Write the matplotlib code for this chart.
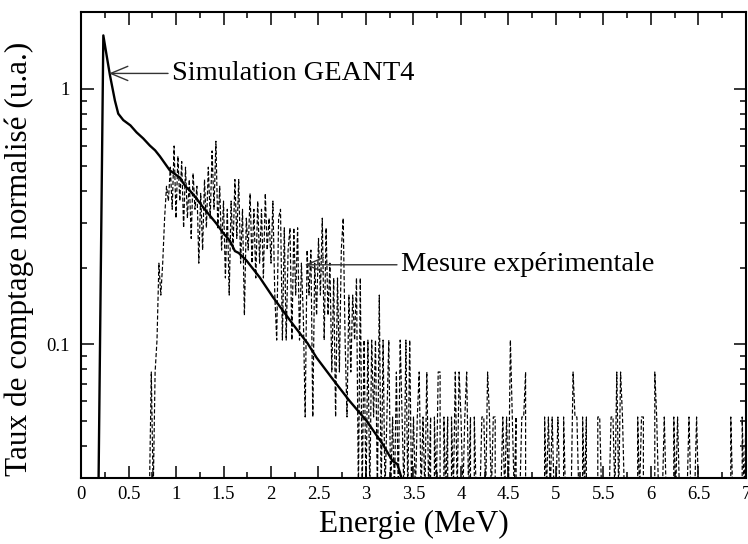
import matplotlib
matplotlib.use("agg")
import numpy as np
import matplotlib.pyplot as plt
from matplotlib.ticker import MultipleLocator, FixedLocator, LogLocator, NullFormatter, FixedFormatter

plt.rcParams['font.family'] = ['Liberation Serif', 'DejaVu Serif']

# simulation GEANT4
sim_e = [0.18, 0.235, 0.27, 0.305, 0.357, 0.392, 0.445, 0.52, 0.585, 0.655, 0.725,
         0.78, 0.83, 0.935, 1.04, 1.10, 1.146, 1.21, 1.285, 1.426, 1.50, 1.566, 1.62,
         1.66, 1.742, 1.881, 2.021, 2.123, 2.23, 2.385, 2.48, 2.649, 2.827, 3.006,
         3.174, 3.279, 3.33, 3.374, 3.40]
sim_y = [0.02, 1.62, 1.35, 1.13, 0.90, 0.80, 0.755, 0.72, 0.676, 0.64, 0.60,
         0.575, 0.545, 0.48, 0.45, 0.415, 0.40, 0.375, 0.344, 0.297, 0.272, 0.255, 0.232,
         0.228, 0.213, 0.183, 0.153, 0.136, 0.120, 0.101, 0.0887, 0.0732, 0.0601, 0.0502,
         0.0408, 0.035, 0.034, 0.030, 0.026]

# measurement: counts per channel, channels of 0.02 MeV starting at 0.70 MeV
exp_start = 0.70
exp_step = 0.02
exp_norm = 0.026
exp_counts = [
    0, 1, 3, 1, 3, 4, 8, 6, 8, 12, 16, 14, 19, 13, 23, 12, 21, 14, 20, 11, 19, 12, 17, 10, 18,
    13, 16, 8, 15, 9, 17, 11, 19, 12, 22, 13, 24, 11, 16, 9, 14, 7, 13, 6, 14, 9, 17, 10, 17, 8,
    13, 5, 12, 9, 15, 8, 13, 7, 14, 8, 13, 7, 15, 9, 12, 8, 14, 6, 4, 12, 13, 4, 11, 4, 9,
    11, 4, 11, 6, 11, 4, 8, 5, 2, 9, 6, 9, 2, 8, 5, 10, 6, 12, 4, 11, 5, 8, 3, 7, 2,
    7, 3, 9, 12, 4, 2, 6, 3, 6, 4, 7, 1, 7, 1, 4, 1, 4, 1, 4, 2, 4, 1, 6, 1, 4,
    1, 2, 4, 1, 2, 1, 3, 1, 4, 2, 1, 4, 1, 4, 1, 2, 1, 2, 3, 1, 2, 1, 3, 1, 2,
    0, 2, 1, 3, 3, 0, 2, 1, 2, 0, 2, 1, 3, 1, 3, 2, 1, 2, 3, 1, 2, 0, 2, 1, 0,
    1, 2, 2, 1, 3, 2, 1, 2, 2, 0, 0, 1, 2, 1, 2, 1, 4, 2, 1, 2, 0, 1, 2, 2, 3,
    0, 0, 1, 0, 0, 0, 0, 1, 0, 2, 1, 2, 1, 2, 1, 1, 2, 1, 0, 2, 1, 1, 0, 1, 3,
    2, 2, 1, 0, 2, 1, 2, 0, 1, 0, 1, 0, 2, 2, 1, 0, 1, 0, 1, 2, 2, 1, 3, 1, 3,
    2, 1, 0, 1, 0, 0, 1, 0, 2, 1, 2, 2, 0, 1, 0, 1, 0, 3, 2, 1, 0, 1, 2, 1, 0,
    1, 0, 2, 1, 2, 1, 0, 1, 0, 1, 2, 1, 0, 1, 2, 1, 0, 0, 0, 0, 0, 0, 0, 0, 0,
    0, 0, 0, 0, 0, 1, 0, 2, 1, 0, 0, 1, 0, 2, 1, 2,
]

exp_e = exp_start + exp_step * np.arange(len(exp_counts))
exp_y = exp_norm * np.array(exp_counts, dtype=float)

fig = plt.figure(figsize=(7.48, 5.44), dpi=100)
ax = fig.add_axes([0.1083, 0.1213, 0.889, 0.8566])

ax.plot(exp_e, exp_y, color='black', linewidth=0.85, linestyle=(0, (3.5, 1.8)))
ax.plot(sim_e, sim_y, color='black', linewidth=1.7)

ax.set_yscale('log')
ax.set_xlim(0, 7)
ax.set_ylim(0.03, 2)

ax.xaxis.set_major_locator(MultipleLocator(0.5))
ax.xaxis.set_minor_locator(MultipleLocator(0.25))
ax.xaxis.set_major_formatter(plt.FuncFormatter(lambda v, p: '%g' % v))
ax.yaxis.set_major_locator(FixedLocator([0.1, 1]))
ax.yaxis.set_major_formatter(FixedFormatter(['0.1', '1']))
ax.yaxis.set_minor_locator(LogLocator(base=10, subs=np.arange(2, 10)))
ax.yaxis.set_minor_formatter(NullFormatter())

ax.tick_params(which='both', direction='in', top=True, right=True, width=1.1)
ax.tick_params(which='major', length=9, labelsize=13.5)
ax.tick_params(axis='x', which='major', pad=6)
ax.tick_params(axis='y', which='major', pad=8)
ax.tick_params(which='minor', length=4.5)
for s in ax.spines.values():
    s.set_linewidth(1.5)

ax.set_xlabel('Energie (MeV)', fontsize=22.5, labelpad=5)
ax.set_ylabel('Taux de comptage normalisé (u.a.)', fontsize=22.5)
ax.yaxis.set_label_coords(-0.07, 0.47)

arrow = dict(arrowstyle='->, head_length=0.6, head_width=0.25', color='#333333', lw=1.0,
             shrinkA=1, shrinkB=0)
ax.annotate('Simulation GEANT4', xy=(0.294, 1.15), xytext=(0.96, 1.15),
            fontsize=20.5, va='center', ha='left', arrowprops=arrow)
ax.annotate('Mesure expérimentale', xy=(2.354, 0.205), xytext=(3.37, 0.205),
            fontsize=20.5, va='center', ha='left', arrowprops=arrow)

fig.savefig('out.png', dpi=100)
